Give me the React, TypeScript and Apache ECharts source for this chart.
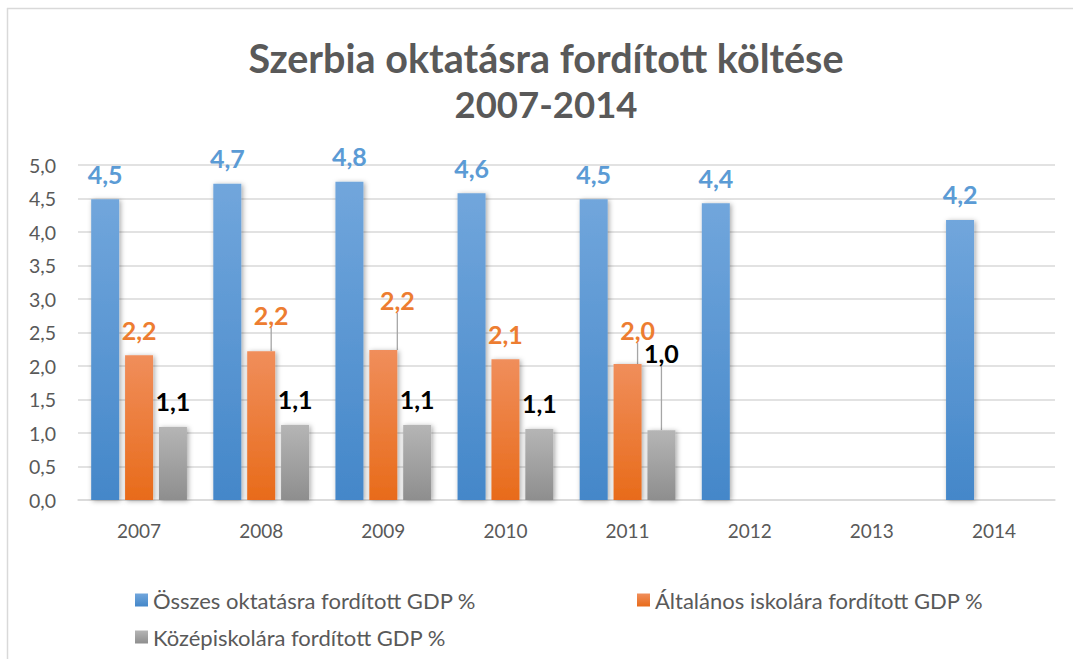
import React, { useEffect, useRef } from "react";
import * as echarts from "echarts";

const categories = ["2007", "2008", "2009", "2010", "2011", "2012", "2013", "2014"];
const seriesNames = [
  "Összes oktatásra fordított GDP %",
  "Általános iskolára fordított GDP %",
  "Középiskolára fordított GDP %",
];
const totalValues: (number | null)[] = [4.49, 4.72, 4.75, 4.58, 4.49, 4.43, null, 4.18];
const primaryValues: (number | null)[] = [2.16, 2.22, 2.24, 2.1, 2.03, null, null, null];
const secondaryValues: (number | null)[] = [1.09, 1.12, 1.12, 1.06, 1.04, null, null, null];
const yTicks = { min: 0, max: 5, interval: 0.5 };

// label displacement (styling) per data index, [dx, dy]
const primaryLabelShift: ([number, number] | null)[] = [null, [10, -11], [14, -24], null, [10, -8], null, null, null];
const secondaryLabelShift: ([number, number] | null)[] = [null, null, null, null, [0, -52], null, null, null];

const FONT = "Lato";

function grad(top: string, bottom: string) {
  return new echarts.graphic.LinearGradient(0, 0, 0, 1, [
    { offset: 0, color: top },
    { offset: 1, color: bottom },
  ]);
}

const fmt = (v: number) => v.toFixed(1).replace(".", ",");

export default function App() {
  const ref = useRef<HTMLDivElement>(null);
  useEffect(() => {
    if (!ref.current) return;
    const chart = echarts.init(ref.current, undefined, { renderer: "svg" });

    const makeData = (vals: (number | null)[], shifts: ([number, number] | null)[] | null) =>
      vals.map((v, i) => {
        const s = shifts ? shifts[i] : null;
        const showLine = !!(s && (s[0] !== 0 || s[1] !== 0));
        return {
          value: v,
          labelLine: { show: showLine },
        };
      });

    const labelLayoutFor = (shifts: ([number, number] | null)[] | null) =>
      shifts
        ? (params: any) => {
            const s = shifts[params.dataIndex];
            if (!s) return {};
            return { dx: s[0], dy: s[1] };
          }
        : undefined;

    const barCommon = {
      type: "bar" as const,
      barWidth: 28,
      barGap: "21%",
      label: {
        show: true,
        position: "top" as const,
        distance: 13,
        fontFamily: FONT,
        fontWeight: "bold" as const,
        fontSize: 25,
        formatter: (p: any) => (p.value == null ? "" : fmt(p.value)),
      },
      labelLine: {
        show: false,
        lineStyle: { color: "#A6A6A6", width: 1.3 },
      },
    };

    const shadow = {
      shadowBlur: 5,
      shadowColor: "rgba(0,0,0,0.35)",
      shadowOffsetX: 1.5,
      shadowOffsetY: 1,
    };

    const legendText = { fontFamily: FONT, fontSize: 22, color: "#595959" };

    chart.setOption({
      animation: false,
      backgroundColor: "#ffffff",
      textStyle: { fontFamily: FONT },
      graphic: [
        {
          type: "line",
          shape: { x1: 7, y1: 8.5, x2: 1073, y2: 8.5 },
          style: { stroke: "#D9D9D9", lineWidth: 1.5 },
        },
        {
          type: "line",
          shape: { x1: 7.5, y1: 8, x2: 7.5, y2: 659 },
          style: { stroke: "#D9D9D9", lineWidth: 1.5 },
        },
        {
          type: "text",
          x: 546,
          y: 57,
          style: {
            text: "Szerbia oktatásra fordított költése",
            textAlign: "center",
            textVerticalAlign: "middle",
            fontFamily: FONT,
            fontWeight: "bold",
            fontSize: 39.5,
            fill: "#595959",
          },
        },
        {
          type: "text",
          x: 546,
          y: 104,
          style: {
            text: "2007-2014",
            textAlign: "center",
            textVerticalAlign: "middle",
            fontFamily: FONT,
            fontWeight: "bold",
            fontSize: 36.5,
            fill: "#595959",
          },
        },
      ],
      legend: [
        {
          left: 135,
          top: 589,
          itemWidth: 13,
          itemHeight: 13,
          icon: "rect",
          data: [seriesNames[0]],
          textStyle: legendText,
          padding: 0,
        },
        {
          left: 637,
          top: 589,
          itemWidth: 13,
          itemHeight: 13,
          icon: "rect",
          data: [seriesNames[1]],
          textStyle: legendText,
          padding: 0,
        },
        {
          left: 135,
          top: 626,
          itemWidth: 13,
          itemHeight: 13,
          icon: "rect",
          data: [seriesNames[2]],
          textStyle: legendText,
          padding: 0,
        },
      ],
      grid: { left: 78, right: 18, top: 165, bottom: 159, containLabel: false },
      xAxis: {
        type: "category",
        data: categories,
        axisTick: { show: false },
        axisLine: { lineStyle: { color: "#D9D9D9", width: 1.5 } },
        axisLabel: { fontFamily: FONT, fontSize: 19, color: "#595959", margin: 21 },
      },
      yAxis: {
        type: "value",
        min: yTicks.min,
        max: yTicks.max,
        interval: yTicks.interval,
        axisLine: { show: false },
        axisTick: { show: false },
        splitLine: { lineStyle: { color: "#D9D9D9", width: 1.5 } },
        axisLabel: {
          fontFamily: FONT,
          fontSize: 19.5,
          color: "#595959",
          margin: 22,
          formatter: (v: number) => fmt(v),
        },
      },
      series: [
        {
          ...barCommon,
          name: seriesNames[0],
          data: makeData(totalValues, null),
          itemStyle: { color: grad("#71A6DC", "#4487C9"), ...shadow },
          label: { ...barCommon.label, color: "#5B9BD5" },
        },
        {
          ...barCommon,
          name: seriesNames[1],
          data: makeData(primaryValues, primaryLabelShift),
          itemStyle: { color: grad("#F08E5B", "#E86B1A"), ...shadow },
          label: { ...barCommon.label, color: "#ED7D31" },
          labelLayout: labelLayoutFor(primaryLabelShift),
        },
        {
          ...barCommon,
          name: seriesNames[2],
          data: makeData(secondaryValues, secondaryLabelShift),
          itemStyle: { color: grad("#B5B5B5", "#8E8E8E"), ...shadow },
          label: { ...barCommon.label, color: "#000000" },
          labelLayout: labelLayoutFor(secondaryLabelShift),
        },
      ],
    });
    return () => chart.dispose();
  }, []);
  return (
    <div
      ref={ref}
      style={{ position: "fixed", left: 0, top: 0, width: 1073, height: 659 }}
    />
  );
}
